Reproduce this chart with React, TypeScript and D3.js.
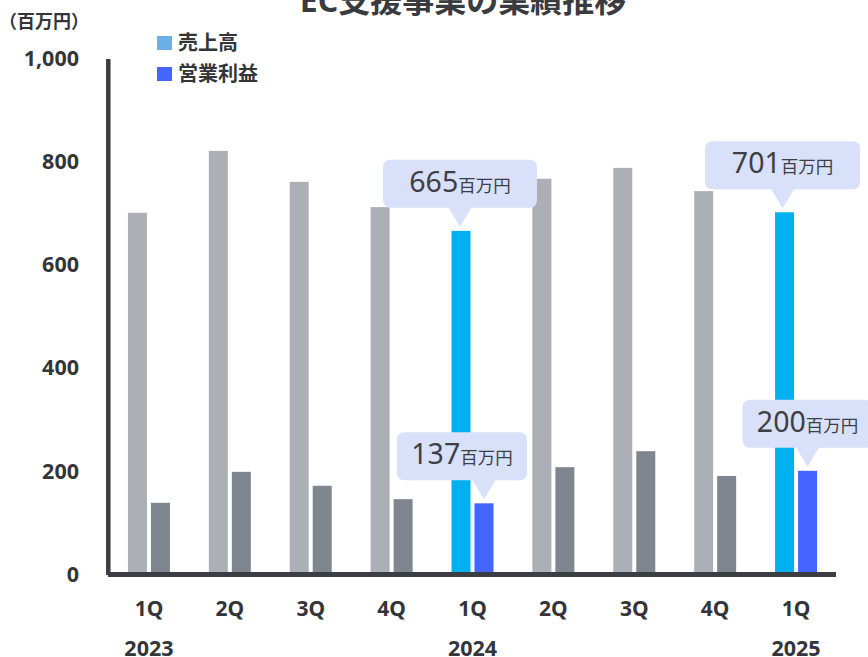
import React from 'react';
import * as d3 from 'd3';

const quarters = ['1Q', '2Q', '3Q', '4Q', '1Q', '2Q', '3Q', '4Q', '1Q'];
const years = ['2023', '', '', '', '2024', '', '', '', '2025'];
const sales = [700, 820, 760, 711, 665, 766, 787, 742, 701];
const profit = [138, 198, 171, 145, 137, 207, 238, 190, 200];
const highlighted = [false, false, false, false, true, false, false, false, true];
const yTicks = [0, 200, 400, 600, 800, 1000];
const legendLabels = ['売上高', '営業利益'];
const title = 'EC支援事業の業績推移';
const unitLabel = '（百万円）';
const calloutUnit = '百万円';

// annotation layout (style): which bar, box width, horizontal shift
const callouts = [
  { index: 4, series: 'sales', boxW: 154, dx: -1 },
  { index: 8, series: 'sales', boxW: 155, dx: -2 },
  { index: 4, series: 'profit', boxW: 130, dx: -22 },
  { index: 8, series: 'profit', boxW: 130, dx: 0 },
];

const W = 868;
const H = 657;
const FONT = '"Noto Sans", "Noto Sans CJK JP", sans-serif';
const TEXT = '#333538';
const AXIS = '#3b3e43';

const C_SALES = '#acafb6';
const C_PROFIT = '#80868f';
const C_SALES_HI = '#00b0f0';
const C_PROFIT_HI = '#4465ff';
const C_LEG_SALES = '#6db0e8';
const C_BOX = '#d8e0fa';

export default function App() {
  const x = d3.scaleBand<number>().domain(d3.range(quarters.length)).range([108.5, 836.5]).padding(0);
  const y = d3.scaleLinear().domain([0, 1000]).range([574, 58]);
  const barW = 19;
  const gap = 4;
  const cx = (i: number) => (x(i) as number) + x.bandwidth() / 2;
  const fmt = d3.format(',');

  return (
    <svg width={W} height={H} style={{ position: 'absolute', left: 0, top: 0, fontFamily: FONT }}>
      <rect x={0} y={0} width={W} height={H} fill="#fff" />
      {/* title */}
      <text x={463} y={12} textAnchor="middle" fontSize={32} fontWeight={700} fill="#3a3b3e">
        {title}
      </text>
      {/* unit */}
      <text x={-1} y={28} fontSize={18} fontWeight={700} fill={TEXT}>
        {unitLabel}
      </text>
      {/* legend */}
      {legendLabels.map((l, i) => (
        <g key={l} transform={`translate(157, ${36 + i * 31})`}>
          <rect x={0} y={0} width={15} height={14} fill={i === 0 ? C_LEG_SALES : C_PROFIT_HI} />
          <text x={21} y={7} dy="0.36em" fontSize={20} fontWeight={700} fill={TEXT}>
            {l}
          </text>
        </g>
      ))}
      {/* y tick labels */}
      {yTicks.map((t) => (
        <text key={t} x={79} y={y(t)} dy="0.36em" textAnchor="end" fontSize={21.5} fontWeight={700} fill={TEXT}>
          {fmt(t)}
        </text>
      ))}
      {/* bars */}
      {quarters.map((q, i) => (
        <g key={i}>
          <rect
            x={cx(i) - gap / 2 - barW}
            y={y(sales[i])}
            width={barW}
            height={y(0) - y(sales[i])}
            fill={highlighted[i] ? C_SALES_HI : C_SALES}
          />
          <rect
            x={cx(i) + gap / 2}
            y={y(profit[i])}
            width={barW}
            height={y(0) - y(profit[i])}
            fill={highlighted[i] ? C_PROFIT_HI : C_PROFIT}
          />
        </g>
      ))}
      {/* axes */}
      <line x1={108.3} x2={108.3} y1={y(1000) + 1} y2={575} stroke={AXIS} strokeWidth={4.5} />
      <line x1={108} x2={836} y1={574.5} y2={574.5} stroke={AXIS} strokeWidth={5} />
      {/* x labels */}
      {quarters.map((q, i) => (
        <text key={'q' + i} x={cx(i)} y={616} textAnchor="middle" fontSize={21} fontWeight={700} fill={TEXT}>
          {q}
        </text>
      ))}
      {years.map((yr, i) =>
        yr ? (
          <text key={'y' + i} x={cx(i)} y={656} textAnchor="middle" fontSize={21.5} fontWeight={700} fill={TEXT}>
            {yr}
          </text>
        ) : null
      )}
      {/* callouts */}
      {callouts.map((c, k) => {
        const val = c.series === 'sales' ? sales[c.index] : profit[c.index];
        const barCx = c.series === 'sales' ? cx(c.index) - gap / 2 - barW / 2 : cx(c.index) + gap / 2 + barW / 2;
        const tipY = y(val) - 4;
        const ptrH = 19;
        const boxH = 48;
        const boxBottom = tipY - ptrH;
        const boxTop = boxBottom - boxH;
        const boxCx = barCx + c.dx;
        const tipX = Math.abs(c.dx) < 5 ? boxCx : barCx;
        return (
          <g key={'c' + k}>
            <rect x={boxCx - c.boxW / 2} y={boxTop} width={c.boxW} height={boxH} rx={7} fill={C_BOX} />
            <path
              d={`M${tipX - 12},${boxBottom - 1} L${tipX + 12},${boxBottom - 1} L${tipX},${tipY} Z`}
              fill={C_BOX}
            />
            <text x={boxCx} y={boxTop + 32} textAnchor="middle" fill="#3d3f44">
              <tspan fontSize={28.5}>{val}</tspan>
              <tspan fontSize={17.5}>{calloutUnit}</tspan>
            </text>
          </g>
        );
      })}
    </svg>
  );
}
